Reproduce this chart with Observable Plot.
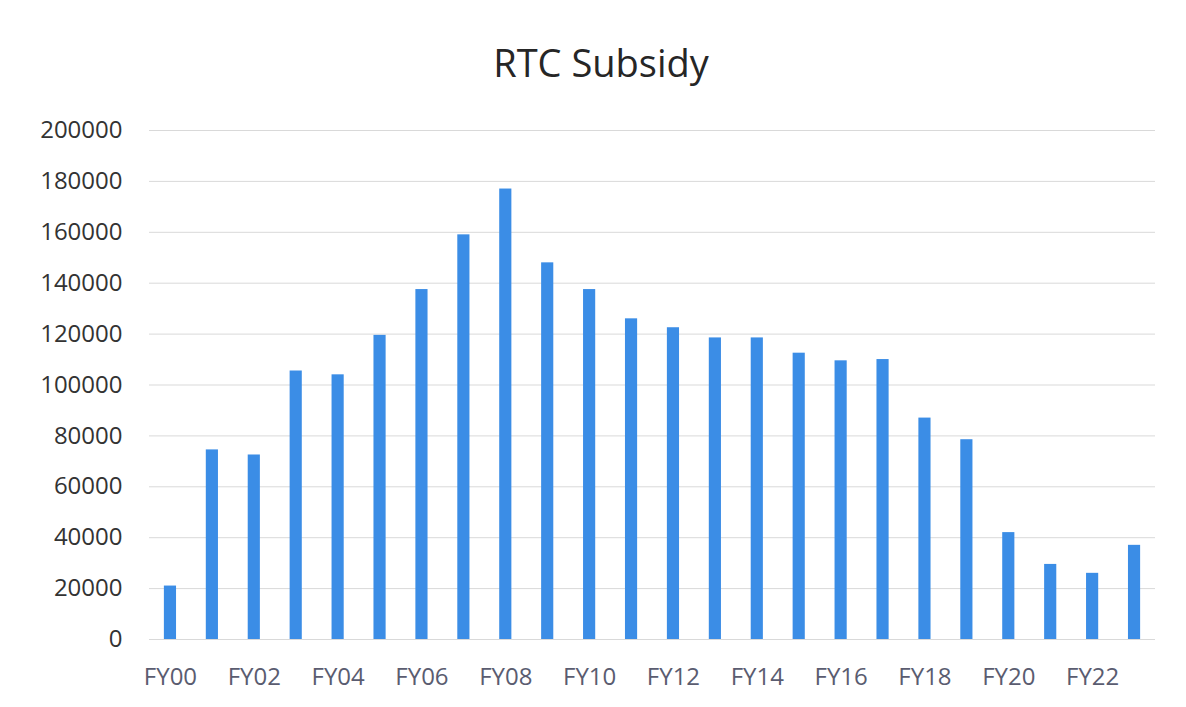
<!DOCTYPE html>
<html>
<head>
<meta charset="utf-8">
<script src="https://cdn.jsdelivr.net/npm/d3@7"></script>
<script src="https://cdn.jsdelivr.net/npm/@observablehq/plot@0.6"></script>
<style>
  html, body { margin: 0; padding: 0; background: #fff; }
  #title { height: 100px; box-sizing: border-box; padding-top: 42px; padding-left: 16px; text-align: center;
           font-family: "Open Sans", sans-serif; font-size: 38px; line-height: 40px; color: #262626; }
  #chart svg { display: block; }
</style>
</head>
<body>
<div id="title">RTC Subsidy</div>
<div id="chart"></div>
<script>
const years = ["FY00","FY01","FY02","FY03","FY04","FY05","FY06","FY07","FY08","FY09","FY10","FY11",
               "FY12","FY13","FY14","FY15","FY16","FY17","FY18","FY19","FY20","FY21","FY22","FY23"];
const subsidy = [21000, 74500, 72500, 105500, 104000, 119500, 137500, 159000, 177000, 148000, 137500, 126000,
                 122500, 118500, 118500, 112500, 109500, 110000, 87000, 78500, 42000, 29500, 26000, 37000];
const yTicks = [0, 20000, 40000, 60000, 80000, 100000, 120000, 140000, 160000, 180000, 200000];
const xTicks = years.filter((d, i) => i % 2 === 0);

const data = years.map((y, i) => ({year: y, value: subsidy[i]}));

const chart = Plot.plot({
  width: 1186,
  height: 607,
  marginLeft: 149,
  marginRight: 31,
  marginTop: 30,
  marginBottom: 68,
  style: {fontFamily: "Open Sans, sans-serif", fontSize: "24px", background: "#fff"},
  x: {domain: years, paddingInner: 0.71, paddingOuter: 0.355, round: false, label: null},
  y: {domain: [0, 200000], label: null},
  marks: [
    Plot.gridY(yTicks, {stroke: "#d9d9d9", strokeOpacity: 1, strokeWidth: 1}),
    Plot.barY(data, {x: "year", y: "value", fill: "#3b8de6"}),
    Plot.axisY(yTicks, {tickSize: 0, tickPadding: 27, tickFormat: d => String(d), fill: "#333333", fontSize: 24, label: null}),
    Plot.axisX(xTicks, {tickSize: 0, tickPadding: 28, fill: "#5a5c70", fontSize: 24, label: null})
  ]
});
document.getElementById("chart").appendChild(chart);
</script>
</body>
</html>
